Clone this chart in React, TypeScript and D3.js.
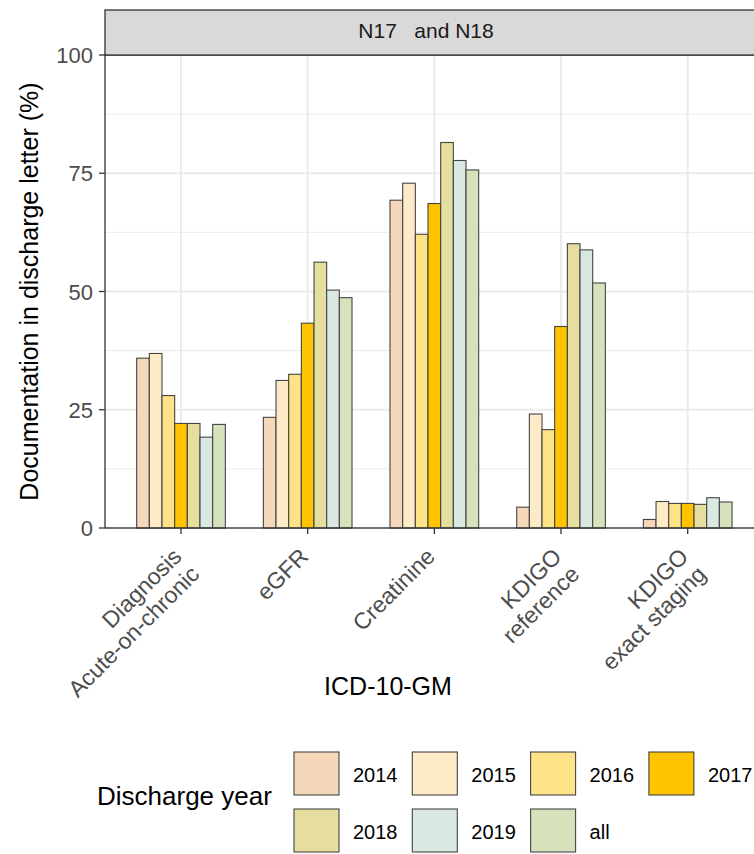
import React from "react";
import * as d3 from "d3";

const categories = ["Diagnosis\nAcute-on-chronic", "eGFR", "Creatinine", "KDIGO\nreference", "KDIGO\nexact staging"];
const years = ["2014", "2015", "2016", "2017", "2018", "2019", "all"];
const v2014 = [35.9, 23.4, 69.3, 4.4, 1.8];
const v2015 = [36.9, 31.2, 72.9, 24.1, 5.6];
const v2016 = [28.0, 32.5, 62.1, 20.8, 5.2];
const v2017 = [22.1, 43.3, 68.6, 42.6, 5.2];
const v2018 = [22.1, 56.2, 81.5, 60.1, 5.0];
const v2019 = [19.2, 50.3, 77.7, 58.8, 6.4];
const vAll = [21.9, 48.7, 75.7, 51.8, 5.5];
const seriesValues = [v2014, v2015, v2016, v2017, v2018, v2019, vAll];
const colors = ["#F5D8BA", "#FDEBC8", "#FDE287", "#FFC300", "#E6DE9F", "#D9E9E1", "#D6E2BC"];
const yTicks = [0, 25, 50, 75, 100];
const yMinor = [12.5, 37.5, 62.5, 87.5];
const stripLabel = "N17   and N18";
const xTitle = "ICD-10-GM";
const yTitle = "Documentation in discharge letter (%)";
const legendTitle = "Discharge year";

const W = 754;
const H = 854;
const FONT = "'Liberation Sans', Arial, sans-serif";

export default function App() {
  const left = 105;
  const right = 763.7;
  const top = 55;
  const bottom = 528;
  const x = d3.scaleBand<string>().domain(categories).range([left, right]).paddingInner(0.3).paddingOuter(0.25);
  const xi = d3.scaleBand<string>().domain(years).range([0, x.bandwidth()]).padding(0);
  const y = d3.scaleLinear().domain([0, 100]).range([bottom, top]);
  const grid = "#EBEBEB";
  const keyX0 = 294;
  const keyStep = 118.3;
  const keyY0 = 752;
  const rowStep = 57;

  return (
    <svg width={W} height={H} style={{ position: "absolute", left: 0, top: 0, background: "#fff" }} fontFamily={FONT}>
      <rect x={0} y={0} width={W} height={H} fill="#fff" />
      {/* gridlines */}
      {yMinor.map((t) => (
        <line key={"mn" + t} x1={left} x2={right} y1={y(t)} y2={y(t)} stroke={grid} strokeWidth={1} />
      ))}
      {yTicks.map((t) => (
        <line key={"mj" + t} x1={left} x2={right} y1={y(t)} y2={y(t)} stroke={grid} strokeWidth={2} />
      ))}
      {categories.map((c) => (
        <line key={"vg" + c} x1={x(c)! + x.bandwidth() / 2} x2={x(c)! + x.bandwidth() / 2} y1={top} y2={bottom} stroke={grid} strokeWidth={2} />
      ))}
      {/* bars */}
      {categories.map((c, ci) => (
        <g key={"g" + c}>
          {years.map((yr, si) => {
            const v = seriesValues[si][ci];
            return (
              <rect
                key={yr}
                x={x(c)! + xi(yr)!}
                y={y(v)}
                width={xi.bandwidth()}
                height={y(0) - y(v)}
                fill={colors[si]}
                stroke="#444"
                strokeWidth={1.1}
              />
            );
          })}
        </g>
      ))}
      {/* panel border */}
      <rect x={left} y={top} width={right - left} height={bottom - top} fill="none" stroke="#333" strokeWidth={1.3} />
      {/* strip */}
      <rect x={left} y={10} width={right - left} height={top - 10} fill="#D9D9D9" stroke="#333" strokeWidth={1.3} />
      <text x={426} y={38} textAnchor="middle" fontSize={21} fill="#1A1A1A" style={{ whiteSpace: "pre" }}>
        {stripLabel}
      </text>
      {/* y axis */}
      {yTicks.map((t) => (
        <g key={"yt" + t}>
          <line x1={left - 6} x2={left} y1={y(t)} y2={y(t)} stroke="#333" strokeWidth={1.3} />
          <text x={left - 12} y={y(t) + 8} textAnchor="end" fontSize={22} fill="#4D4D4D">
            {t}
          </text>
        </g>
      ))}
      <text transform={`translate(38, ${(top + bottom) / 2}) rotate(-90)`} textAnchor="middle" fontSize={25} fill="#000">
        {yTitle}
      </text>
      {/* x axis */}
      {categories.map((c) => {
        const cx = x(c)! + x.bandwidth() / 2;
        const lines = c.split("\n");
        return (
          <g key={"xt" + c}>
            <line x1={cx} x2={cx} y1={bottom} y2={bottom + 6} stroke="#333" strokeWidth={1.3} />
            <text transform={`translate(${cx + 2}, 558) rotate(-45)`} textAnchor="end" fontSize={23} fill="#4D4D4D">
              {lines.map((l, i) => (
                <tspan key={i} x={0} dy={i === 0 ? 0 : 25}>
                  {l}
                </tspan>
              ))}
            </text>
          </g>
        );
      })}
      <text x={388} y={695} textAnchor="middle" fontSize={25} fill="#000">
        {xTitle}
      </text>
      {/* legend */}
      <text x={97} y={805} fontSize={26} fill="#000">
        {legendTitle}
      </text>
      {years.map((yr, i) => {
        const col = i % 4;
        const row = Math.floor(i / 4);
        const kx = keyX0 + col * keyStep;
        const ky = keyY0 + row * rowStep;
        return (
          <g key={"lg" + yr}>
            <rect x={kx} y={ky} width={45} height={43} fill={colors[i]} stroke="#444" strokeWidth={1.1} />
            <text x={kx + 59} y={ky + 30} fontSize={20} fill="#000">
              {yr}
            </text>
          </g>
        );
      })}
    </svg>
  );
}
